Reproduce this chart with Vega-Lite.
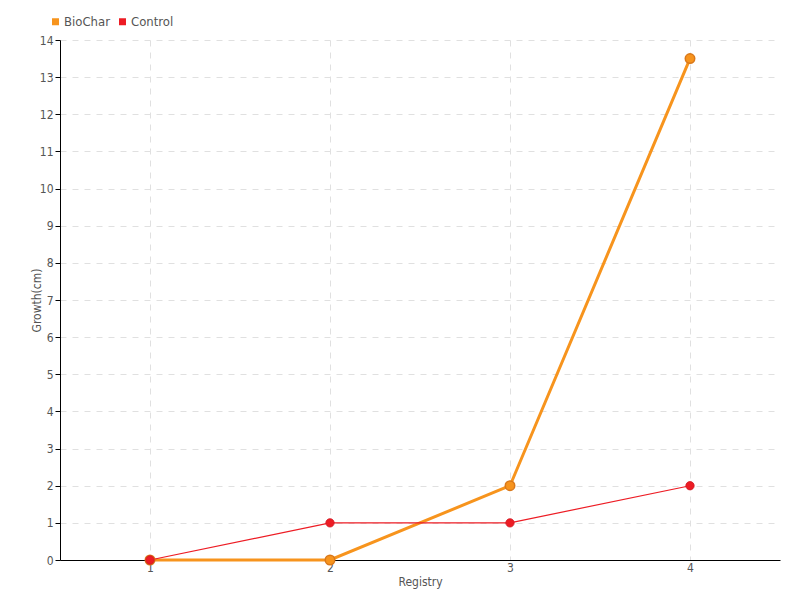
{
  "$schema": "https://vega.github.io/schema/vega-lite/v6.json",
  "width": 720,
  "height": 520,
  "autosize": {"type": "none"},
  "padding": {"left": 60, "top": 40, "right": 20, "bottom": 40},
  "background": "white",
  "config": {
    "view": {"stroke": null},
    "font": "DejaVu Sans Condensed",
    "axis": {"labelColor": "#555", "titleColor": "#555", "labelFontSize": 12, "titleFontSize": 12, "titleFontWeight": "normal", "labelFont": "DejaVu Sans Condensed", "titleFont": "DejaVu Sans Condensed"}
  },
  "data": {"values": [
    {"registry": "1", "group": "BioChar", "growth": 0},
    {"registry": "2", "group": "BioChar", "growth": 0},
    {"registry": "3", "group": "BioChar", "growth": 2},
    {"registry": "4", "group": "BioChar", "growth": 13.5},
    {"registry": "1", "group": "Control", "growth": 0},
    {"registry": "2", "group": "Control", "growth": 1},
    {"registry": "3", "group": "Control", "growth": 1},
    {"registry": "4", "group": "Control", "growth": 2}
  ]},
  "encoding": {
    "x": {"field": "registry", "type": "ordinal", "title": "Registry",
      "scale": {"type": "point", "padding": 0.5},
      "axis": {"labelAngle": 0, "domainColor": "#000", "domainWidth": 1, "ticks": false, "labelPadding": 2, "gridColor": "#e0e0e0", "gridDash": [6, 6], "grid": true, "titlePadding": 3}},
    "y": {"field": "growth", "type": "quantitative", "title": "Growth(cm)",
      "scale": {"domain": [0, 14]},
      "axis": {"values": [0,1,2,3,4,5,6,7,8,9,10,11,12,13,14], "domainColor": "#000", "tickColor": "#000", "tickSize": 5, "gridColor": "#e0e0e0", "gridDash": [6, 6], "titlePadding": -4, "labelPadding": 2}},
    "color": {"field": "group", "type": "nominal",
      "scale": {"domain": ["BioChar", "Control"], "range": ["#f7941d", "#ed1c24"]},
      "legend": {"orient": "none", "legendX": -11, "legendY": -25, "direction": "horizontal", "title": null, "symbolType": "square", "symbolSize": 30, "labelFontSize": 13, "labelColor": "#555", "columnPadding": 6, "symbolOffset": 0, "labelOffset": 2}}
  },
  "layer": [
    {"transform": [{"filter": "datum.group === 'BioChar'"}], "mark": {"type": "line", "strokeWidth": 3}},
    {"transform": [{"filter": "datum.group === 'Control'"}], "mark": {"type": "line", "strokeWidth": 1.2, "color": "#ff3b4a"}},
    {"transform": [{"filter": "datum.group === 'BioChar'"}], "mark": {"type": "point", "filled": true, "size": 90, "opacity": 1, "stroke": "#d9781a", "strokeWidth": 1.5}},
    {"transform": [{"filter": "datum.group === 'Control'"}], "mark": {"type": "point", "filled": true, "size": 70, "opacity": 1, "stroke": "#d01622", "strokeWidth": 0.8}}
  ]
}
